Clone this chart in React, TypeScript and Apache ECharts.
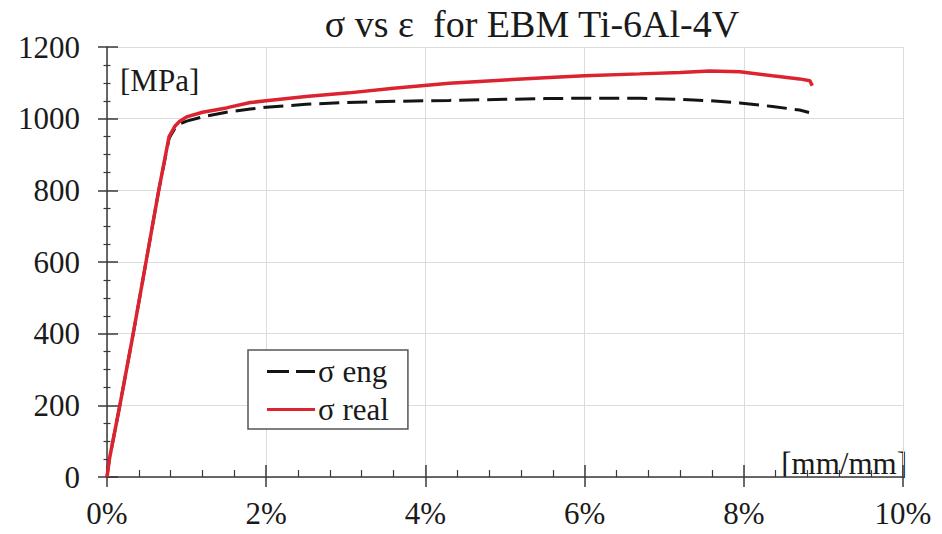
import React, { useEffect, useRef } from "react";
import * as echarts from "echarts";

// strain in %, stress in MPa
const strainEng = [0, 0.03, 0.165, 0.33, 0.45, 0.65, 0.78, 0.85, 0.91, 1.0, 1.2, 1.5, 1.8, 2.0, 2.5, 3.0, 3.5, 4.3, 5.0, 5.5, 6.0, 6.7, 7.2, 7.57, 7.95, 8.36, 8.7, 8.82];
const stressEng = [0, 50, 204, 401, 550, 800, 945, 972, 985, 993, 1005, 1018, 1027, 1032, 1040, 1045, 1048, 1051, 1054, 1056, 1057, 1057, 1054, 1050, 1044, 1034, 1024, 1017];

const strainReal = [0, 0.03, 0.165, 0.33, 0.45, 0.65, 0.78, 0.85, 0.91, 1.0, 1.2, 1.5, 1.8, 2.0, 2.5, 3.04, 3.6, 4.3, 5.0, 5.56, 6.0, 6.69, 7.2, 7.57, 7.95, 8.36, 8.7, 8.83, 8.86];
const stressReal = [0, 50, 204, 401, 550, 800, 950, 978, 992, 1005, 1018, 1030, 1045, 1050, 1062, 1072, 1085, 1099, 1108, 1115, 1120, 1125, 1129, 1133, 1131, 1120, 1111, 1106, 1092];

const xTicks = [0, 2, 4, 6, 8, 10];
const yTicks = [0, 200, 400, 600, 800, 1000, 1200];

const seriesNames = ["σ eng", "σ real"];
const titleText = "σ vs ε  for EBM Ti-6Al-4V";
const yUnit = "[MPa]";
const xUnit = "[mm/mm]";

const FONT = "Liberation Serif, Times New Roman, serif";

export default function App() {
  const ref = useRef<HTMLDivElement>(null);

  useEffect(() => {
    document.body.style.margin = "0";
    if (!ref.current) return;
    const chart = echarts.init(ref.current, null, { renderer: "svg" });

    const engData = strainEng.map((x, i) => [x, stressEng[i]]);
    const realData = strainReal.map((x, i) => [x, stressReal[i]]);

    const axisColor = "#3a3a3a";
    const labelStyle = { fontFamily: FONT, fontSize: 31, color: "#1a1a1a" };
    const engColor = "#141414";
    const realColor = "#dc2430";
    const engDash = [20, 8];

    chart.setOption({
      animation: false,
      backgroundColor: "#ffffff",
      textStyle: { fontFamily: FONT },
      grid: { left: 107, right: 39, top: 47, bottom: 57, outerBoundsMode: "none" },
      legend: {
        orient: "vertical",
        left: 248,
        top: 350,
        padding: [6, 19, 4, 19],
        itemGap: 7,
        itemWidth: 48,
        itemHeight: 3.2,
        borderColor: "#555",
        borderWidth: 1.5,
        backgroundColor: "#ffffff",
        textStyle: { fontFamily: FONT, fontSize: 31, color: "#1a1a1a", padding: [0, 0, 0, -2] },
        data: [
          {
            name: seriesNames[0],
            icon: "path://M0,0H22V3.2H0Z M29,0H48V3.2H29Z",
          },
          {
            name: seriesNames[1],
            icon: "rect",
          },
        ],
      },
      xAxis: [
        {
          type: "value",
          min: xTicks[0],
          max: xTicks[xTicks.length - 1],
          interval: 2,
          position: "bottom",
          axisLine: { show: true, lineStyle: { color: axisColor, width: 1.5 } },
          axisTick: { show: true, inside: true, length: 12, lineStyle: { color: axisColor, width: 1.5 } },
          minorTick: { show: true, splitNumber: 5, length: 7, lineStyle: { color: axisColor, width: 1.2 } },
          axisLabel: { ...labelStyle, margin: 21, formatter: (v: number) => `${v}%` },
          splitLine: { show: true, lineStyle: { color: "#dcdcdc", width: 1 } },
        },
        {
          type: "value",
          min: xTicks[0],
          max: xTicks[xTicks.length - 1],
          interval: 2,
          position: "bottom",
          axisLine: { show: false },
          axisTick: { show: true, inside: false, length: 10, lineStyle: { color: axisColor, width: 1.5 } },
          axisLabel: { show: false },
          splitLine: { show: false },
        },
      ],
      yAxis: [
        {
          type: "value",
          min: yTicks[0],
          max: yTicks[yTicks.length - 1],
          interval: 200,
          position: "left",
          axisLine: { show: true, lineStyle: { color: axisColor, width: 1.5 } },
          axisTick: { show: true, inside: false, length: 9, lineStyle: { color: axisColor, width: 1.5 } },
          minorTick: { show: true, splitNumber: 4, length: 3.5, lineStyle: { color: axisColor, width: 1.2 } },
          axisLabel: { ...labelStyle, margin: 27, formatter: (v: number) => String(v) },
          splitLine: { show: true, lineStyle: { color: "#dcdcdc", width: 1 } },
        },
        {
          type: "value",
          min: yTicks[0],
          max: yTicks[yTicks.length - 1],
          interval: 200,
          position: "left",
          axisLine: { show: false },
          axisTick: { show: true, inside: true, length: 11, lineStyle: { color: axisColor, width: 1.5 } },
          minorTick: { show: true, splitNumber: 4, length: 3.5, lineStyle: { color: axisColor, width: 1.2 } },
          axisLabel: { show: false },
          splitLine: { show: false },
        },
      ],
      series: [
        {
          name: seriesNames[0],
          type: "line",
          xAxisIndex: 0,
          yAxisIndex: 0,
          data: engData,
          showSymbol: false,
          symbol: "none",
          lineStyle: { color: engColor, width: 3, type: engDash },
          itemStyle: { color: engColor },
          z: 3,
        },
        {
          name: seriesNames[1],
          type: "line",
          xAxisIndex: 0,
          yAxisIndex: 0,
          data: realData,
          showSymbol: false,
          symbol: "none",
          lineStyle: { color: realColor, width: 3.5 },
          itemStyle: { color: realColor },
          z: 4,
        },
      ],
      graphic: [
        {
          type: "text",
          x: 532,
          y: 24,
          style: {
            text: titleText,
            fontFamily: FONT,
            fontSize: 38,
            fill: "#1a1a1a",
            align: "center",
            verticalAlign: "middle",
          },
        },
        {
          type: "text",
          x: 120,
          y: 80,
          style: {
            text: yUnit,
            fontFamily: FONT,
            fontSize: 31,
            fill: "#1a1a1a",
            align: "left",
            verticalAlign: "middle",
          },
        },
        {
          type: "text",
          x: 907,
          y: 463,
          style: {
            text: xUnit,
            fontFamily: FONT,
            fontSize: 31,
            fill: "#1a1a1a",
            align: "right",
            verticalAlign: "middle",
          },
        },
      ],
    });

    return () => chart.dispose();
  }, []);

  return <div ref={ref} style={{ width: 942, height: 534 }} />;
}
